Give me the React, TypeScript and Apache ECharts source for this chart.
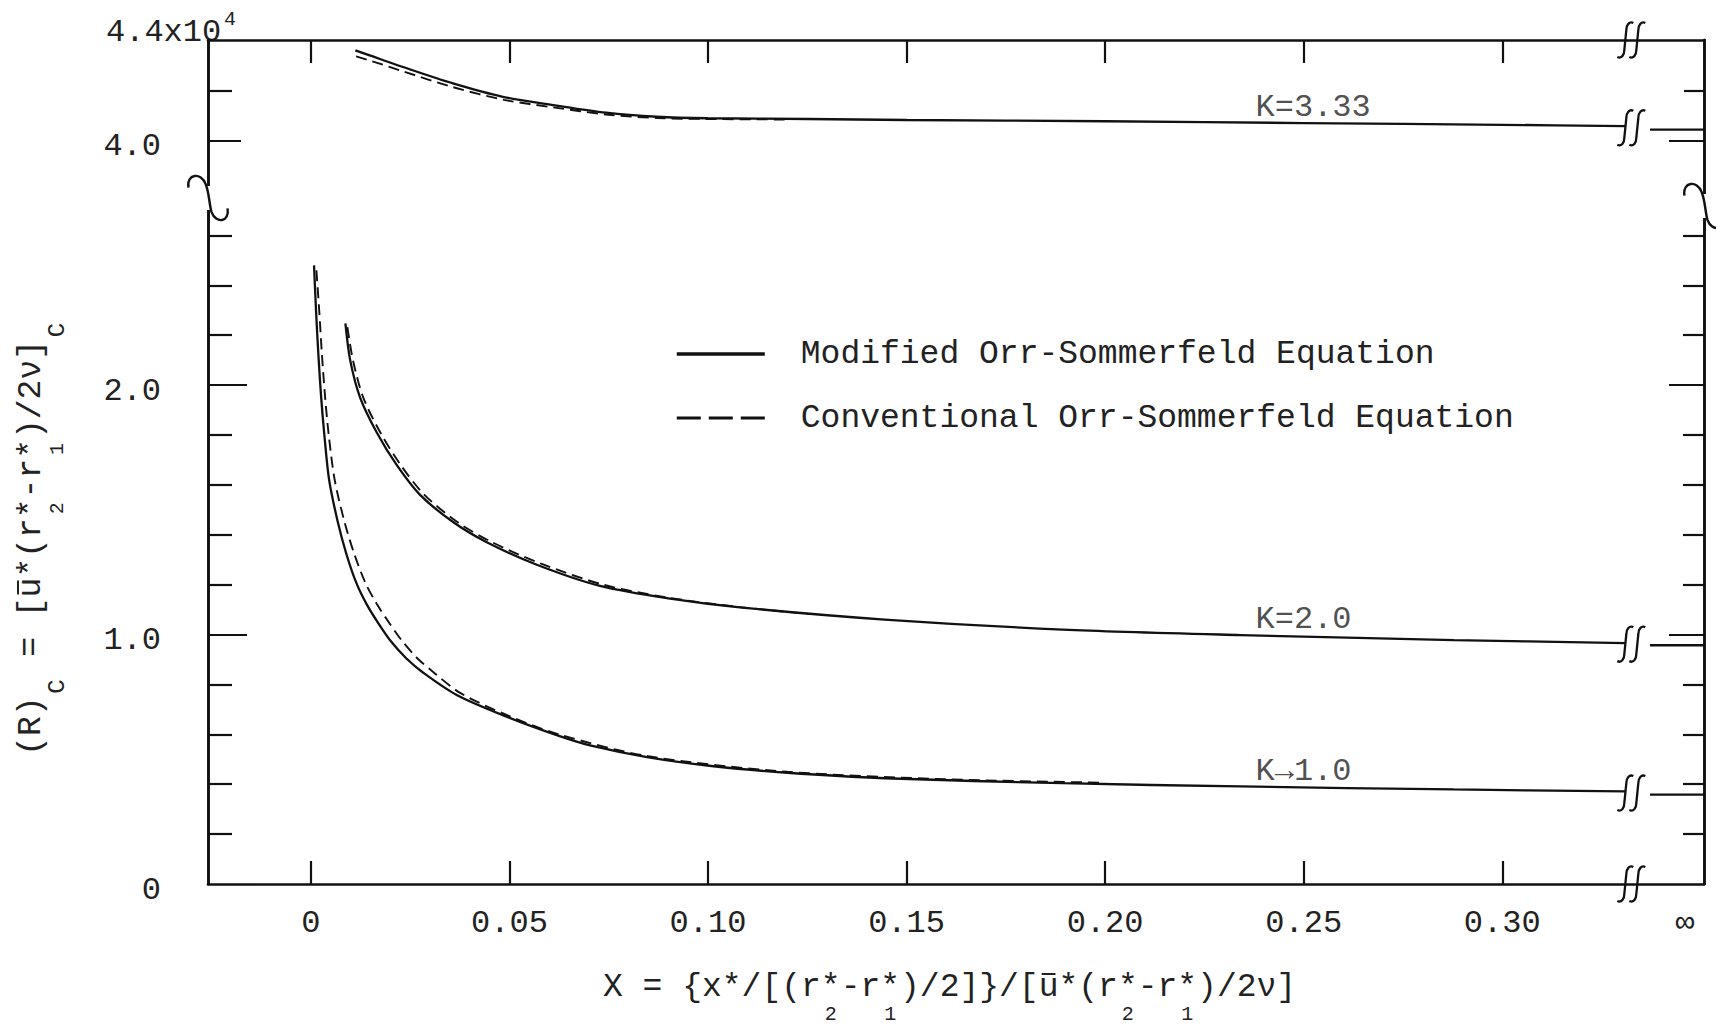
import React, { useEffect, useRef } from 'react';
import * as echarts from 'echarts';

const FONT = "'Liberation Mono', 'DejaVu Sans Mono', monospace";
const INK = '#111111';
const TEXT = '#222222';

const MOD = 'Modified Orr-Sommerfeld Equation';
const CONV = 'Conventional Orr-Sommerfeld Equation';

// ---- x axis ----
const X_MIN = -0.0259;
const X_MAX = 0.3508;
const xTicks = [0, 0.05, 0.1, 0.15, 0.2, 0.25, 0.3];
const X_INF_LABEL = 0.346;
const xLabels = [...xTicks, X_INF_LABEL];
const X_BREAK = 0.3325;
const X_INF_START = 0.3372;
const X_CURVE_LABEL = 0.238;

// ---- y axis (upper panel above the break, lower panel below) ----
const Y_UP_MIN = 3.774;
const Y_UP_MAX = 4.4;
const yUpMajor = [4.0];
const yUpMinor = [4.2];
const Y_LO_MIN = 0;
const Y_LO_MAX = 2.75;
const yLoMajor = [1.0, 2.0];
const yLoMinor = [0.2, 0.4, 0.6, 0.8, 1.2, 1.4, 1.6, 1.8, 2.2, 2.4, 2.6];
const yLoLabels = [0, 1.0, 2.0];

// ---- data (X, (R)c x 10^-4) ----
const k333Modified = [
  [0.0112, 4.359], [0.015, 4.338], [0.023, 4.294], [0.0358, 4.228], [0.0486, 4.174],
  [0.0615, 4.141], [0.0743, 4.112], [0.0871, 4.096], [0.1, 4.09], [0.125, 4.087],
  [0.15, 4.083], [0.2, 4.078], [0.25, 4.071], [0.3, 4.064], [0.331, 4.059],
];
const k333Conventional = [
  [0.0114, 4.335], [0.015, 4.318], [0.023, 4.277], [0.0358, 4.213], [0.0486, 4.163],
  [0.0615, 4.132], [0.0743, 4.105], [0.0871, 4.091], [0.1, 4.087], [0.12, 4.085],
];
const k2Modified = [
  [0.0087, 2.247], [0.0099, 2.1], [0.0124, 1.95], [0.0166, 1.81], [0.0216, 1.68],
  [0.0275, 1.56], [0.0359, 1.45], [0.0443, 1.37], [0.0569, 1.28], [0.0728, 1.195],
  [0.09, 1.145], [0.1086, 1.108], [0.1445, 1.06], [0.1893, 1.02], [0.234, 0.998],
  [0.2878, 0.978], [0.331, 0.966],
];
const k2Conventional = [
  [0.0092, 2.232], [0.0106, 2.1], [0.0132, 1.95], [0.0175, 1.81], [0.0226, 1.68],
  [0.0286, 1.56], [0.037, 1.45], [0.0454, 1.372], [0.058, 1.284], [0.0738, 1.199],
  [0.09, 1.148], [0.108, 1.11], [0.126, 1.082],
];
const k1Modified = [
  [0.0008, 2.48], [0.0013, 2.3], [0.0019, 2.12], [0.0026, 1.95], [0.0034, 1.8],
  [0.0046, 1.62], [0.0068, 1.45], [0.009, 1.32], [0.0115, 1.205], [0.0141, 1.12],
  [0.017, 1.045], [0.0199, 0.978], [0.024, 0.905], [0.0283, 0.847], [0.0367, 0.758],
  [0.0493, 0.671], [0.0619, 0.597], [0.0703, 0.556], [0.085, 0.508], [0.1014, 0.472],
  [0.12, 0.446], [0.1445, 0.424], [0.1893, 0.404], [0.234, 0.391], [0.2878, 0.379],
  [0.331, 0.371],
];
const k1Conventional = [
  [0.0014, 2.46], [0.0021, 2.3], [0.0028, 2.12], [0.0036, 1.95], [0.0045, 1.8],
  [0.006, 1.62], [0.0085, 1.45], [0.011, 1.32], [0.0138, 1.205], [0.0167, 1.12],
  [0.0198, 1.045], [0.0228, 0.978], [0.0268, 0.905], [0.0308, 0.85], [0.0377, 0.765],
  [0.0497, 0.675], [0.0622, 0.601], [0.085, 0.512], [0.12, 0.45], [0.16, 0.42],
  [0.2, 0.406],
];
// values at X -> infinity
const asymptoteK333 = 4.045;
const asymptoteK2 = 0.957;
const asymptoteK1 = 0.358;

const curveNames = ['K=3.33', 'K=2.0', 'K\u21921.0'];

// ---- break-mark shapes ----
const X_BREAK_PATH =
  'M 2 -17 C -2 -19 -5 -15 -5 -10 L -7 10 C -7 15 -10 19 -14 17 ' +
  'M 14 -17 C 10 -19 7 -15 7 -10 L 5 10 C 5 15 2 19 -2 17';
const Y_BREAK_PATH = 'M -17 -9 C -19 -21 -6 -23 -2 -12 C 1 -5 1 5 3 12 C 7 23 19 21 17 9';
echarts.graphic.registerShape('xBreakMark', echarts.graphic.extendPath(X_BREAK_PATH, {}));
echarts.graphic.registerShape('yBreakMark', echarts.graphic.extendPath(Y_BREAK_PATH, {}));

const last = (a: number[][]) => a[a.length - 1];
function interp(a: number[][], x: number) {
  for (let i = 1; i < a.length; i++) {
    if (a[i][0] >= x) {
      const t = (x - a[i - 1][0]) / (a[i][0] - a[i - 1][0]);
      return a[i - 1][1] + t * (a[i][1] - a[i - 1][1]);
    }
  }
  return last(a)[1];
}

const labelFont = { fontFamily: FONT, fontSize: 32, color: TEXT };
const axisLine = { show: true, onZero: false, lineStyle: { color: INK, width: 2.6 } };

function xAx(gridIndex: number, position: string, withLabels: boolean) {
  return {
    type: 'value', gridIndex, position, min: X_MIN, max: X_MAX,
    axisLine, splitLine: { show: false },
    axisTick: { show: true, inside: true, length: 23, customValues: xTicks, lineStyle: { color: INK, width: 2.2 } },
    axisLabel: withLabels
      ? {
          show: true, customValues: xLabels, margin: 23, ...labelFont,
          formatter: (v: number) => (v > 0.33 ? '\u221e' : v === 0 ? '0' : v.toFixed(2)),
        }
      : { show: false },
  };
}

function yAx(gridIndex: number, position: string, min: number, max: number, ticks: number[], len: number, labels?: number[]) {
  return {
    type: 'value', gridIndex, position, min, max, offset: 0,
    axisLine, splitLine: { show: false },
    axisTick: { show: true, inside: true, length: len, customValues: ticks, lineStyle: { color: INK, width: 2.2 } },
    axisLabel: labels
      ? {
          show: true, customValues: labels, margin: 47, ...labelFont,
          verticalAlign: 'top', lineHeight: 12,
          formatter: (v: number) => (v === 0 ? '0' : v.toFixed(1)),
        }
      : { show: false },
  };
}

function line(name: string, data: number[][], upper: boolean, dashed: boolean) {
  return {
    type: 'line', name, data,
    xAxisIndex: upper ? 0 : 1, yAxisIndex: upper ? 0 : 4,
    showSymbol: false, symbol: 'none', smooth: 0.3, silent: true,
    lineStyle: { color: INK, width: dashed ? 1.9 : 2.3, type: dashed ? [11, 6] : 'solid' },
    itemStyle: { color: INK },
    emphasis: { disabled: true },
    z: dashed ? 3 : 4,
  };
}

function labelSeries(upper: boolean, items: { name: string; curve: number[][] }[]) {
  return {
    type: 'scatter', name: 'curve labels', silent: true,
    xAxisIndex: upper ? 0 : 1, yAxisIndex: upper ? 0 : 4,
    symbolSize: 1, itemStyle: { color: 'rgba(0,0,0,0)' },
    data: items.map((it) => ({ name: it.name, value: [X_CURVE_LABEL, interp(it.curve, X_CURVE_LABEL)] })),
    label: { show: true, formatter: '{b}', position: [0, -15], align: 'left', verticalAlign: 'middle', ...labelFont },
  };
}

function buildOption() {
  return {
    animation: false,
    backgroundColor: '#ffffff',
    grid: [
      { left: 208, right: 12, top: 40, height: 158, outerBoundsMode: 'none' },
      { left: 208, right: 12, top: 198, height: 686, outerBoundsMode: 'none' },
    ],
    xAxis: [xAx(0, 'top', false), xAx(1, 'bottom', true)],
    yAxis: [
      yAx(0, 'left', Y_UP_MIN, Y_UP_MAX, yUpMajor, 33, yUpMajor),
      yAx(0, 'left', Y_UP_MIN, Y_UP_MAX, yUpMinor, 24),
      yAx(0, 'right', Y_UP_MIN, Y_UP_MAX, yUpMajor, 35),
      yAx(0, 'right', Y_UP_MIN, Y_UP_MAX, yUpMinor, 20),
      yAx(1, 'left', Y_LO_MIN, Y_LO_MAX, yLoMajor, 39, yLoLabels),
      yAx(1, 'left', Y_LO_MIN, Y_LO_MAX, yLoMinor, 24),
      yAx(1, 'right', Y_LO_MIN, Y_LO_MAX, yLoMajor, 35),
      yAx(1, 'right', Y_LO_MIN, Y_LO_MAX, yLoMinor, 21),
    ],
    legend: {
      data: [
        { name: MOD, lineStyle: { width: 3.6, type: 'solid' } },
        { name: CONV, lineStyle: { width: 3, type: [24, 8] } },
      ],
      orient: 'vertical', left: 670, top: 329,
      itemWidth: 88, itemHeight: 14, itemGap: 24, selectedMode: false,
      itemStyle: { opacity: 0, borderWidth: 0 },
      textStyle: { fontFamily: FONT, fontSize: 33, color: TEXT, lineHeight: 40, padding: [0, 0, 0, 31] },
    },
    series: [
      line(MOD, k333Modified, true, false),
      line(MOD, k2Modified, false, false),
      line(MOD, k1Modified, false, false),
      line(MOD, [[X_INF_START, asymptoteK333], [X_MAX, asymptoteK333]], true, false),
      line(MOD, [[X_INF_START, asymptoteK2], [X_MAX, asymptoteK2]], false, false),
      line(MOD, [[X_INF_START, asymptoteK1], [X_MAX, asymptoteK1]], false, false),
      line(CONV, k333Conventional, true, true),
      line(CONV, k2Conventional, false, true),
      line(CONV, k1Conventional, false, true),
      labelSeries(true, [{ name: curveNames[0], curve: k333Modified }]),
      labelSeries(false, [
        { name: curveNames[1], curve: k2Modified },
        { name: curveNames[2], curve: k1Modified },
      ]),
    ],
  };
}

const TITLE_SIZE = 33;
const ADV = 0.60009766 * TITLE_SIZE;
const xTitle = 'X = {x*/[(r*-r*)/2]}/[u*(r*-r*)/2\u03bd]';
const xTitleSubs = [{ i: 11, t: '2' }, { i: 14, t: '1' }, { i: 26, t: '2' }, { i: 29, t: '1' }];
const xTitleBar = 22;
const yTitlePieces = [{ i: 0, t: '(R)' }, { i: 5, t: '= [u*(r*-r*)/2\u03bd]' }];
const yTitleSubs = [{ i: 3, t: 'C' }, { i: 12, t: '2' }, { i: 15, t: '1' }, { i: 21, t: 'C' }];
const yTitleBar = 8;
const Y_TITLE_LEN = 22;

function txt(x: number, y: number, text: string, size: number, align = 'left') {
  return {
    type: 'text', x, y, silent: true,
    style: { text, fontFamily: FONT, fontSize: size, fill: TEXT, align, verticalAlign: 'middle' },
  };
}

function buildGraphics(chart: any) {
  const px = (xi: number, yi: number, p: number[]) =>
    chart.convertToPixel({ xAxisIndex: xi, yAxisIndex: yi }, p) as number[];
  const els: any[] = [];
  const markStyle = { stroke: INK, fill: 'none', lineWidth: 2.3 };

  const xBreaks = [
    px(0, 0, [X_BREAK, Y_UP_MAX]),
    px(0, 0, [X_BREAK, (last(k333Modified)[1] + asymptoteK333) / 2]),
    px(1, 4, [X_BREAK, (last(k2Modified)[1] + asymptoteK2) / 2]),
    px(1, 4, [X_BREAK, (last(k1Modified)[1] + asymptoteK1) / 2]),
    px(1, 4, [X_BREAK, Y_LO_MIN]),
  ];
  xBreaks.forEach(([x, y]) => els.push({ type: 'xBreakMark', x, y, z: 20, silent: true, style: markStyle }));

  const yBreaks = [px(1, 4, [X_MIN, Y_LO_MAX]), px(1, 4, [X_MAX, Y_LO_MAX])];
  yBreaks.forEach(([x, y], k) => {
    const yy = y + (k === 1 ? 8 : 0);
    els.push({ type: 'rect', shape: { x: x - 5, y: yy - 12, width: 10, height: 24 }, style: { fill: '#ffffff' }, z: 19, silent: true });
    els.push({ type: 'yBreakMark', x, y: yy, scaleX: 1.15, scaleY: 1.15, z: 20, silent: true, style: { ...markStyle, lineWidth: 2.1 } });
  });

  // axis multiplier at the top of the y axis
  els.push(txt(106, 32, '4.4x10', 32));
  els.push(txt(224, 19, '4', 20));

  // x-axis title
  const x0 = 603;
  const yT = 987;
  els.push(txt(x0, yT, xTitle, TITLE_SIZE));
  xTitleSubs.forEach((s) => els.push(txt(x0 + (s.i + 0.5) * ADV, yT + 27, s.t, 20, 'center')));
  els.push({
    type: 'line', silent: true,
    shape: { x1: x0 + xTitleBar * ADV + 3, y1: yT - 13, x2: x0 + (xTitleBar + 1) * ADV - 3, y2: yT - 13 },
    style: { stroke: TEXT, lineWidth: 2 },
  });

  // y-axis title (rotated)
  const L = -(Y_TITLE_LEN * ADV) / 2;
  const children: any[] = [];
  yTitlePieces.forEach((p) => children.push(txt(L + p.i * ADV, 0, p.t, TITLE_SIZE)));
  yTitleSubs.forEach((s) => children.push(txt(L + (s.i + 0.5) * ADV, 26, s.t, s.t === 'C' ? 24 : 20, 'center')));
  children.push({
    type: 'line', silent: true,
    shape: { x1: L + yTitleBar * ADV + 3, y1: -13, x2: L + (yTitleBar + 1) * ADV - 3, y2: -13 },
    style: { stroke: TEXT, lineWidth: 2 },
  });
  els.push({ type: 'group', x: 31, y: 538, rotation: Math.PI / 2, silent: true, children });

  return els;
}

export default function App() {
  const ref = useRef<HTMLDivElement>(null);
  useEffect(() => {
    if (!ref.current) return;
    const chart = echarts.init(ref.current, undefined, { renderer: 'svg' });
    chart.setOption(buildOption() as any);
    chart.setOption({ graphic: buildGraphics(chart) } as any);
    return () => chart.dispose();
  }, []);
  return (
    <div
      ref={ref}
      style={{ position: 'absolute', left: 0, top: 0, width: 1716, height: 1024, background: '#ffffff' }}
    />
  );
}
